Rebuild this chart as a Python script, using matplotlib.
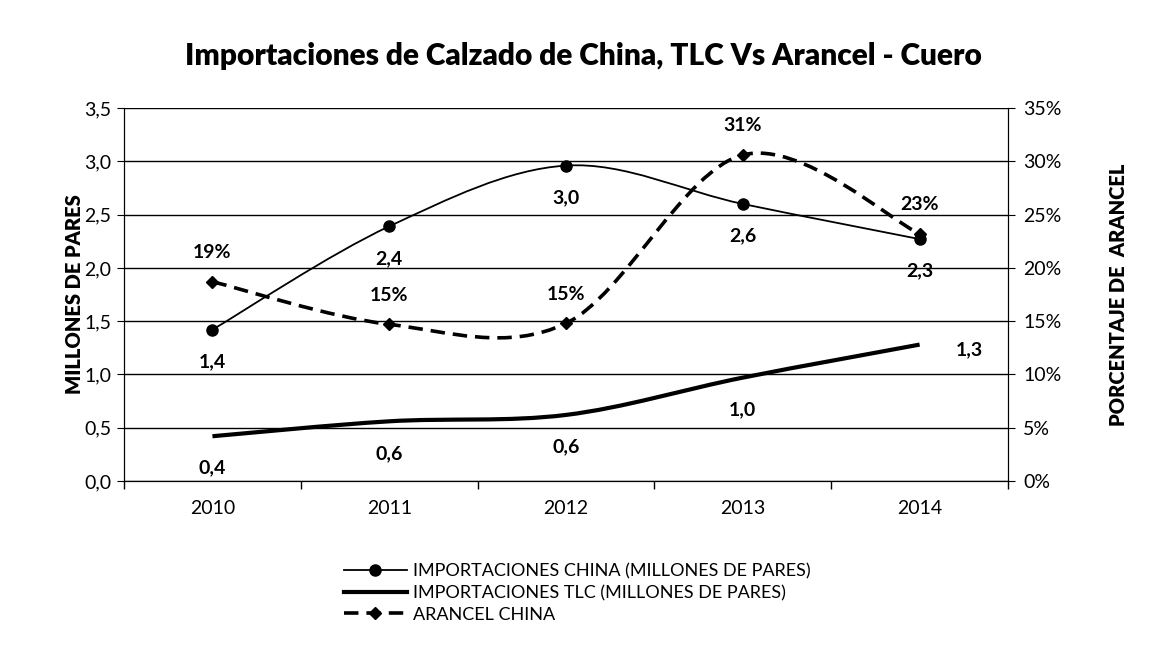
import matplotlib.pyplot as plt
from matplotlib.path import Path
from matplotlib.patches import PathPatch
from matplotlib.lines import Line2D
from matplotlib.ticker import FuncFormatter

# Datos
years = ["2010", "2011", "2012", "2013", "2014"]
china = [1.42, 2.39, 2.96, 2.60, 2.27]
tlc = [0.42, 0.56, 0.62, 0.97, 1.28]
arancel = [0.187, 0.147, 0.148, 0.306, 0.232]

plt.rcParams["font.family"] = ["Lato", "DejaVu Sans"]


def smooth_path(xs, ys):
    # curva suavizada tipo Excel (Bezier con tension 1/6)
    pts = list(zip(xs, ys))
    n = len(pts)
    verts = [pts[0]]
    codes = [Path.MOVETO]
    for i in range(n - 1):
        p0 = pts[i - 1] if i > 0 else pts[i]
        p1 = pts[i]
        p2 = pts[i + 1]
        p3 = pts[i + 2] if i + 2 < n else pts[i + 1]
        c1 = (p1[0] + (p2[0] - p0[0]) / 6, p1[1] + (p2[1] - p0[1]) / 6)
        c2 = (p2[0] - (p3[0] - p1[0]) / 6, p2[1] - (p3[1] - p1[1]) / 6)
        verts += [c1, c2, p2]
        codes += [Path.CURVE4] * 3
    return Path(verts, codes)


fig = plt.figure(figsize=(11.54, 6.47), dpi=100)
ax = fig.add_axes([0.1075, 0.2566, 0.766, 0.5764])
ax2 = ax.twinx()

x = list(range(len(years)))

# lineas
ax.add_patch(PathPatch(smooth_path(x, china), fill=False, lw=1.3, color="black", zorder=3))
ax.plot(x, china, "o", color="black", ms=8, zorder=4)
ax.add_patch(PathPatch(smooth_path(x, tlc), fill=False, lw=3, color="black", zorder=3))
ax2.add_patch(PathPatch(smooth_path(x, arancel), fill=False, lw=2.6, color="black",
                        linestyle=(0, (4, 2.2)), zorder=3))
ax2.plot(x, arancel, "D", color="black", ms=6, zorder=4)

# etiquetas de datos
for i, v in enumerate(china):
    ax.annotate(f"{v:.1f}".replace(".", ","), (i, v), xytext=(0, -23), textcoords="offset points",
                ha="center", va="center", fontsize=14, fontweight="bold")
for i, v in enumerate(tlc):
    off = (0, -23)
    if i == 4:
        off = (36, -4)
    ax.annotate(f"{v:.1f}".replace(".", ","), (i, v), xytext=off, textcoords="offset points",
                ha="center", va="center", fontsize=14, fontweight="bold")
for i, v in enumerate(arancel):
    ax2.annotate(f"{v * 100:.0f}%", (i, v), xytext=(0, 21), textcoords="offset points",
                 ha="center", va="center", fontsize=14, fontweight="bold")

# ejes
ax.set_xlim(-0.5, 4.5)
ax.set_ylim(0, 3.5)
ax2.set_ylim(0, 0.35)
ax.set_yticks([i * 0.5 for i in range(8)])
ax2.set_yticks([i * 0.05 for i in range(8)])
ax.yaxis.set_major_formatter(FuncFormatter(lambda v, p: f"{v:.1f}".replace(".", ",")))
ax2.yaxis.set_major_formatter(FuncFormatter(lambda v, p: f"{v * 100:.0f}%"))
ax.set_xticks(x)
ax.set_xticklabels(years)
ax.set_xticks([i + 0.5 for i in range(-1, 5)], minor=True)
ax.tick_params(axis="x", which="major", length=0, labelsize=14, pad=14)
ax.tick_params(axis="x", which="minor", length=6, width=1)
ax.tick_params(axis="y", length=5, labelsize=14, pad=4)
ax2.tick_params(axis="y", length=5, labelsize=14, pad=6)
ax.grid(axis="y", color="black", lw=1)
ax.set_axisbelow(True)
for sp in ["top"]:
    ax.spines[sp].set_visible(False)
    ax2.spines[sp].set_visible(False)

ax.set_ylabel("MILLONES DE PARES", fontsize=14.5, fontweight="heavy", labelpad=0)
ax2.set_ylabel("PORCENTAJE DE  ARANCEL", fontsize=14.5, fontweight="heavy", labelpad=34)

fig.suptitle("Importaciones de Calzado de China, TLC Vs Arancel - Cuero", x=0.506, y=0.935,
             fontsize=21.5, fontweight="heavy")

# leyenda
handles = [
    Line2D([], [], color="black", lw=1.3, marker="o", ms=8),
    Line2D([], [], color="black", lw=3),
    Line2D([], [], color="black", lw=2.6, linestyle=(0, (4, 2.2)), marker="D", ms=6),
]
labels = ["IMPORTACIONES CHINA (MILLONES DE PARES)",
          "IMPORTACIONES TLC (MILLONES DE PARES)",
          "ARANCEL CHINA"]
fig.legend(handles, labels, loc="upper left", bbox_to_anchor=(0.298, 0.129),
           frameon=False, fontsize=13, handlelength=3.5, handletextpad=0.3,
           labelspacing=0.3, borderpad=0, borderaxespad=0)

fig.savefig("out.png", dpi=100)
